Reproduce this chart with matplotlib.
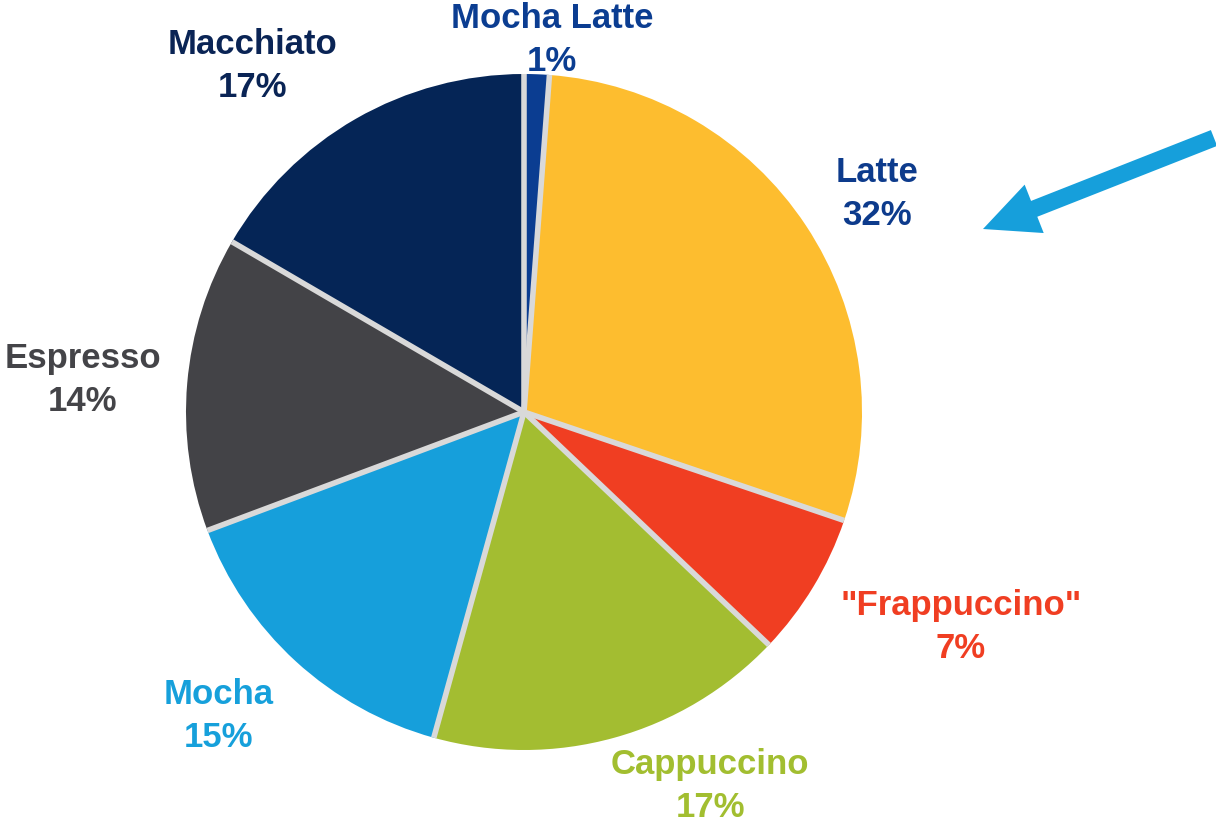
import numpy as np
import matplotlib.pyplot as plt

# Drink shares (slice sizes) and printed labels
drinks = ['Mocha Latte', 'Latte', '"Frappuccino"', 'Cappuccino', 'Mocha', 'Espresso', 'Macchiato']
shares = [1.2, 29.0, 6.9, 17.2, 15.0, 14.1, 16.6]
pct_labels = ['1%', '32%', '7%', '17%', '15%', '14%', '17%']

slice_colors = ['#0b3d91', '#fdbd2f', '#f03e22', '#a3bd31', '#169fdb', '#434347', '#052556']
text_colors = ['#0b3d91', '#0d3b8c', '#f03e22', '#a2be30', '#16a0db', '#444448', '#0a2455']
# label block centres, in pixels from the top-left corner
label_pos = [(552, 40), (877, 194), (961, 627), (710, 786), (219, 716), (83, 380), (253, 66)]

W, H = 1216, 825
cx, cy, r = 524, H - 412, 338

fig = plt.figure(figsize=(W / 100, H / 100), dpi=100)
ax = fig.add_axes([0, 0, 1, 1])

wedges, _ = ax.pie(shares, colors=slice_colors, startangle=90, counterclock=False,
                   center=(cx, cy), radius=r, frame=True,
                   wedgeprops=dict(edgecolor='none'))
ax.set_xlim(0, W)
ax.set_ylim(0, H)
ax.set_aspect('equal')
ax.axis('off')

# light grey separators between the slices (no outer rim)
for w in wedges:
    a = np.deg2rad(w.theta1)
    ax.plot([cx, cx + r * np.cos(a)], [cy, cy + r * np.sin(a)],
            color='#d9d9d9', lw=4, solid_capstyle='butt', zorder=3)

for name, pct, col, (x, y) in zip(drinks, pct_labels, text_colors, label_pos):
    ax.text(x, H - y, name + '\n' + pct, ha='center', va='center', color=col,
            fontsize=25, fontweight='bold', family=['Liberation Sans', 'DejaVu Sans'],
            linespacing=1.35)

# arrow pointing at the Latte slice
ax.arrow(1214, H - 138, 983 - 1214, 138 - 229, width=17, head_width=52,
         head_length=55, length_includes_head=True, color='#169fdb', lw=0)

fig.savefig('out.png', dpi=100, facecolor='white')
